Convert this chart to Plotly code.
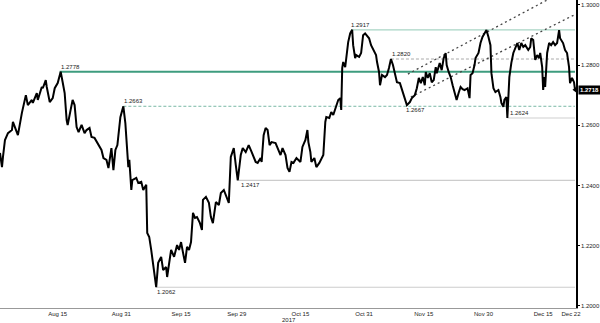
import pandas as pd
import plotly.graph_objects as go

# ---- price series (2017, "MM-DD HH") ----
times = [
"07-31 12","08-01 00","08-01 06","08-01 18","08-02 12","08-03 12","08-03 18","08-04 18","08-05 00","08-06 00",
"08-06 06","08-07 00","08-07 12","08-08 12","08-08 18","08-09 18","08-10 00","08-11 00","08-11 06","08-12 00",
"08-12 06","08-13 00","08-13 18","08-14 06","08-15 00","08-15 18","08-16 06","08-16 18","08-17 06","08-17 12",
"08-18 06","08-18 18","08-19 06","08-19 18","08-20 06","08-21 00","08-21 18","08-22 06","08-23 00","08-23 12",
"08-24 06","08-25 00","08-26 00","08-26 12","08-27 06","08-27 18","08-28 12","08-29 00","08-29 12","08-30 00",
"08-30 18","08-31 06","08-31 12","09-01 00","09-01 12","09-01 18","09-02 00","09-02 12","09-02 18","09-03 18",
"09-04 06","09-05 00","09-05 12","09-06 06","09-06 12","09-07 00","09-07 12","09-08 00","09-08 18","09-09 06",
"09-10 00","09-10 12","09-11 06","09-11 12","09-12 12","09-13 06","09-14 00","09-14 12","09-15 00","09-15 12",
"09-16 00","09-16 12","09-17 00","09-17 12","09-18 00","09-18 12","09-19 00","09-19 18","09-20 06","09-20 12",
"09-21 06","09-22 00","09-22 12","09-23 00","09-23 18","09-24 12","09-25 00","09-25 18","09-26 12","09-27 00",
"09-27 12","09-28 00","09-28 06","09-28 18","09-29 06","09-30 00","09-30 12","10-01 06","10-02 00","10-02 18",
"10-03 18","10-04 06","10-05 00","10-05 06","10-05 18","10-06 06","10-06 18","10-07 06","10-07 18","10-08 18",
"10-09 06","10-10 00","10-10 12","10-11 06","10-11 18","10-12 06","10-12 18","10-13 06","10-14 00","10-15 00",
"10-15 12","10-16 06","10-16 18","10-17 00","10-17 12","10-17 18","10-18 12","10-19 00","10-19 18","10-20 06",
"10-20 18","10-21 06","10-21 12","10-22 06","10-22 18","10-23 06","10-23 18","10-24 00","10-24 12","10-25 00",
"10-25 06","10-25 12","10-25 18","10-26 06","10-26 12","10-26 18","10-27 00","10-27 12","10-28 00","10-28 06",
"10-28 18","10-29 00","10-29 18","10-30 06","10-30 18","10-31 06","10-31 18","11-01 06","11-01 18","11-02 12",
"11-03 00","11-03 06","11-03 18","11-04 00","11-04 12","11-05 06","11-05 18","11-06 06","11-06 18","11-07 06",
"11-07 18","11-08 06","11-09 00","11-09 12","11-10 06","11-10 18","11-11 12","11-12 00","11-12 18","11-13 06",
"11-13 18","11-14 06","11-14 18","11-15 06","11-15 12","11-16 00","11-16 12","11-17 00","11-17 12","11-18 00",
"11-18 06","11-19 00","11-19 12","11-20 00","11-20 12","11-20 18","11-21 06","11-21 18","11-22 06","11-22 18",
"11-23 06","11-23 18","11-24 06","11-24 18","11-25 06","11-26 00","11-26 12","11-26 18","11-27 06","11-27 18",
"11-28 00","11-28 18","11-29 06","11-29 18","11-30 06","11-30 18","12-01 06","12-01 18","12-02 00","12-02 12",
"12-03 00","12-03 18","12-04 06","12-04 12","12-05 00","12-05 06","12-05 18","12-06 00","12-06 12","12-06 18",
"12-07 00","12-07 12","12-08 00","12-08 12","12-09 00","12-09 12","12-10 00","12-10 12","12-11 06","12-11 18",
"12-12 00","12-12 12","12-13 00","12-13 12","12-14 00","12-14 06","12-14 18","12-15 00","12-15 06","12-15 12",
"12-16 00","12-16 12","12-17 00","12-17 12","12-18 00","12-18 12","12-19 00","12-19 06","12-20 00","12-20 12",
"12-21 00","12-21 12","12-21 18","12-22 06","12-22 18","12-23 00",
]
prices = [
1.2508,1.2461,1.2495,1.2551,1.2574,1.2584,1.2611,1.2574,1.2567,1.2641,
1.2657,1.2700,1.2667,1.2684,1.2674,1.2707,1.2684,1.2727,1.2723,1.2750,
1.2727,1.2677,1.2690,1.2723,1.2740,1.2778,1.2743,1.2707,1.2617,1.2601,
1.2651,1.2684,1.2667,1.2594,1.2577,1.2601,1.2574,1.2584,1.2591,1.2561,
1.2558,1.2541,1.2518,1.2491,1.2485,1.2458,1.2524,1.2451,1.2518,1.2534,
1.2627,1.2651,1.2663,1.2607,1.2508,1.2461,1.2485,1.2385,1.2418,1.2425,
1.2408,1.2412,1.2385,1.2402,1.2242,1.2229,1.2186,1.2129,1.2062,1.2143,
1.2163,1.2119,1.2129,1.2096,1.2186,1.2163,1.2202,1.2186,1.2212,1.2176,
1.2143,1.2196,1.2186,1.2212,1.2309,1.2292,1.2295,1.2275,1.2252,1.2352,
1.2362,1.2342,1.2295,1.2275,1.2345,1.2335,1.2375,1.2385,1.2358,1.2342,
1.2495,1.2511,1.2524,1.2468,1.2417,1.2501,1.2524,1.2511,1.2534,1.2511,
1.2478,1.2475,1.2491,1.2478,1.2567,1.2591,1.2584,1.2534,1.2544,1.2541,
1.2524,1.2501,1.2524,1.2501,1.2458,1.2445,1.2478,1.2475,1.2491,1.2478,
1.2528,1.2551,1.2584,1.2544,1.2511,1.2478,1.2491,1.2461,1.2475,1.2491,
1.2501,1.2611,1.2627,1.2624,1.2644,1.2634,1.2657,1.2667,1.2684,1.2690,
1.2651,1.2790,1.2810,1.2793,1.2823,1.2856,1.2876,1.2905,1.2917,1.2866,
1.2823,1.2833,1.2827,1.2840,1.2899,1.2905,1.2896,1.2889,1.2866,1.2843,
1.2833,1.2810,1.2777,1.2733,1.2767,1.2760,1.2767,1.2790,1.2820,1.2800,
1.2773,1.2743,1.2740,1.2717,1.2684,1.2667,1.2677,1.2690,1.2700,1.2723,
1.2757,1.2740,1.2760,1.2733,1.2777,1.2757,1.2773,1.2743,1.2750,1.2793,
1.2773,1.2807,1.2783,1.2823,1.2840,1.2800,1.2777,1.2760,1.2733,1.2710,
1.2684,1.2707,1.2727,1.2720,1.2717,1.2723,1.2690,1.2767,1.2773,1.2800,
1.2823,1.2840,1.2873,1.2893,1.2906,1.2916,1.2893,1.2866,1.2773,1.2723,
1.2710,1.2717,1.2694,1.2674,1.2661,1.2684,1.2694,1.2624,1.2760,1.2793,
1.2807,1.2840,1.2860,1.2873,1.2850,1.2873,1.2860,1.2866,1.2850,1.2860,
1.2889,1.2883,1.2817,1.2833,1.2823,1.2840,1.2793,1.2717,1.2760,1.2727,
1.2840,1.2873,1.2866,1.2876,1.2866,1.2873,1.2916,1.2889,1.2873,1.2850,
1.2840,1.2793,1.2740,1.2757,1.2743,1.2718,
]

# ---- horizontal levels ----
level_prices = [1.2778, 1.2663, 1.2917, 1.2820, 1.2624, 1.2417, 1.2062]
level_starts = ["08-15 12", "08-31 12", "10-27 18", "11-06 18", "12-06 00", "09-29 12", "09-08 18"]
level_end = "12-23 00"

# ---- trend (channel) lines ----
upper_t = ["11-11 00", "12-16 00"]
upper_p = [1.2770, 1.3016]
lower_t = ["11-11 18", "12-22 18"]
lower_p = [1.2694, 1.2966]

# ---- labels ----
label_texts = ["1.2778", "1.2663", "1.2917", "1.2820", "1.2667", "1.2624", "1.2417", "1.2062"]
label_times = ["08-15 12", "08-31 12", "10-27 12", "11-06 18", "11-10 06", "12-06 12", "09-29 18", "09-08 18"]
label_prices = [1.2778, 1.2663, 1.2917, 1.2820, 1.2667, 1.2641, 1.2417, 1.2062]
label_above = [True, True, True, True, False, None, False, False]

x_ticks = ["08-15", "08-31", "09-15", "09-29", "10-15", "10-31", "11-15", "11-30", "12-15", "12-22"]
x_ticktext = ["Aug 15", "Aug 31", "Sep 15", "Sep 29", "Oct 15", "Oct 31", "Nov 15", "Nov 30", "Dec 15", "Dec 22"]
y_ticks = [1.20, 1.22, 1.24, 1.26, 1.28, 1.30]
last_price = 1.2718


def dt(s):
    return pd.to_datetime("2017-" + s + ":00")


fig = go.Figure()

level_styles = [
    dict(color="#3e9c7e", width=2, dash="solid"),
    dict(color="#79b8a6", width=1, dash="3px,2px"),
    dict(color="#a8d5c5", width=1.2, dash="solid"),
    dict(color="#aaaaaa", width=1, dash="3px,2px"),
    dict(color="#cfcfcf", width=1.2, dash="solid"),
    dict(color="#cccccc", width=1.2, dash="solid"),
    dict(color="#cccccc", width=1.2, dash="solid"),
]
for p, s, st in zip(level_prices, level_starts, level_styles):
    fig.add_trace(go.Scatter(x=[dt(s), dt(level_end)], y=[p, p], mode="lines",
                             line=st, hoverinfo="skip"))

for tt, pp in [(upper_t, upper_p), (lower_t, lower_p)]:
    fig.add_trace(go.Scatter(x=[dt(t) for t in tt], y=pp, mode="lines",
                             line=dict(color="#444444", width=1.3, dash="2px,3px"),
                             hoverinfo="skip"))

fig.add_trace(go.Scatter(x=[dt(t) for t in times], y=prices, mode="lines",
                         line=dict(color="#000000", width=2), hoverinfo="skip"))

# last price marker arrow
fig.add_trace(go.Scatter(x=[dt("12-23 06")], y=[last_price], mode="markers",
                         marker=dict(symbol="triangle-left", size=7, color="black"),
                         cliponaxis=False, hoverinfo="skip"))

font = "Liberation Sans, Arial, sans-serif"
for txt, t, p, above in zip(label_texts, label_times, label_prices, label_above):
    if above is None:
        ya = "middle"
    else:
        ya = "bottom" if above else "top"
    fig.add_annotation(x=dt(t), y=p, text=txt, showarrow=False, xanchor="left",
                       yanchor=ya, font=dict(size=6, color="#222222", family=font),
                       xshift=-1)

fig.add_annotation(x=1, xref="paper", y=last_price, yref="y", text="<b>" + f"{last_price:.4f}" + "</b>",
                   showarrow=False, xanchor="left", bgcolor="black", borderpad=1,
                   font=dict(size=6, color="white", family=font), xshift=2)

fig.add_annotation(x=dt("10-12 00"), y=0, yref="paper", text="2017", showarrow=False,
                   yanchor="top", yshift=-7, font=dict(size=6, color="#222222", family=font))

fig.update_layout(
    width=600, height=323,
    margin=dict(l=0, r=21, t=0, b=15),
    paper_bgcolor="white", plot_bgcolor="white",
    showlegend=False,
    xaxis=dict(type="date", range=[dt("07-31 12"), dt("12-23 06")],
               tickvals=[dt(t + " 00") for t in x_ticks], ticktext=x_ticktext,
               showgrid=False, zeroline=False, showline=True, linecolor="#999999",
               linewidth=1, ticks="", tickfont=dict(size=6, color="#222222", family=font)),
    yaxis=dict(side="right", range=[1.1993, 1.3016], tickvals=y_ticks,
               ticktext=[f"{v:.4f}" for v in y_ticks], ticks="outside", ticklen=2,
               tickcolor="black", showline=True, linecolor="black", linewidth=1.5,
               showgrid=False, zeroline=False,
               tickfont=dict(size=6, color="#222222", family=font)),
)

fig.write_html("out.html")
